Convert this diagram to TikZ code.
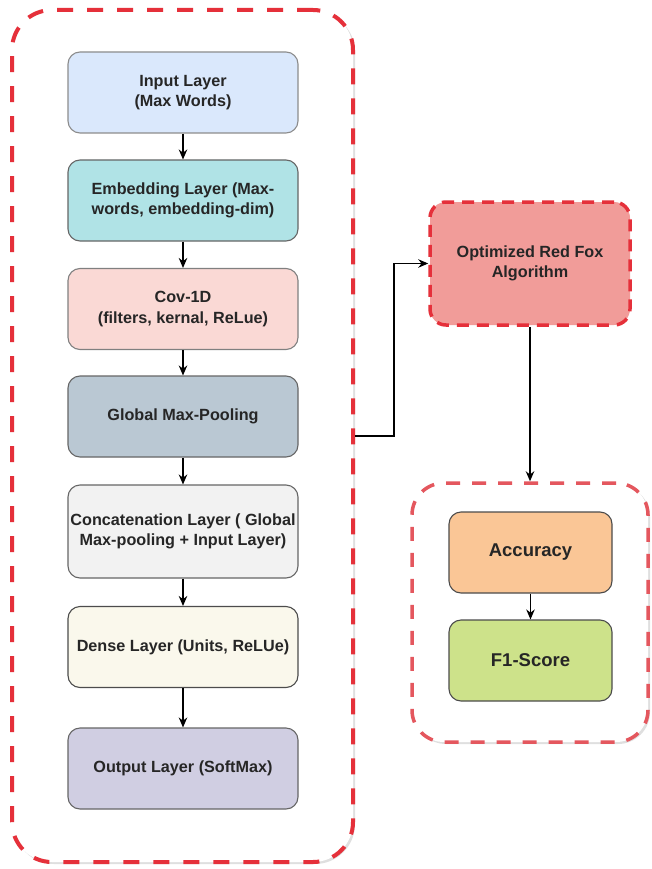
\documentclass[tikz,border=0pt]{standalone}
\usepackage{fontspec}
\setmainfont{Liberation Sans}
\usetikzlibrary{arrows.meta,shadows}
\definecolor{cred}{HTML}{E5303A}
\definecolor{cred2}{HTML}{E4575E}
\definecolor{cinp}{HTML}{DAE8FC}
\definecolor{cemb}{RGB}{176,227,230}
\definecolor{ccov}{RGB}{250,217,213}
\definecolor{cgmp}{RGB}{186,200,211}
\definecolor{ccat}{RGB}{242,242,242}
\definecolor{cden}{RGB}{250,248,236}
\definecolor{cout}{RGB}{208,206,226}
\definecolor{cfox}{RGB}{241,156,153}
\definecolor{cacc}{RGB}{250,198,150}
\definecolor{cf1}{RGB}{205,226,138}
\tikzset{
  box/.style={draw=#1, line width=1.1pt, rounded corners=12pt, minimum width=230pt, minimum height=81pt,
    align=center, font=\fontsize{16.2}{20.5}\selectfont\bfseries, text=black!85, inner sep=1pt},
  cont/.style={draw=cred, line width=4pt, dash pattern=on 16pt off 14pt, rounded corners=40pt, inner sep=0pt,
    drop shadow={opacity=0.25, shadow xshift=2pt, shadow yshift=-2pt}, fill=white},
  arr/.style={draw=black, line width=1.2pt, -{Stealth[length=10pt,width=8.5pt]}},
}
\begin{document}
\begin{tikzpicture}[x=1pt,y=-1pt]
\fill[white] (0,0) rectangle (652,869);
\useasboundingbox (0,0) rectangle (652,869);
% containers
\node[cont, minimum width=341pt, minimum height=852pt] (c1) at (182.5,436) {};
\node[cont, draw=cred2, line width=3.5pt, dash pattern=on 14pt off 12pt, rounded corners=32pt, minimum width=236pt, minimum height=259pt] (c2) at (530,612.5) {};
% left column
\node[box=black!45, fill=cinp] (inp) at (183,92.5) {Input Layer\\(Max Words)};
\node[box=black!60, fill=cemb] (emb) at (183,200.5) {Embedding Layer (Max-\\words, embedding-dim)};
\node[box=black!50, fill=ccov] (cov) at (183,309) {Cov-1D\\(filters, kernal, ReLue)};
\node[box=black!60, fill=cgmp] (gmp) at (183,416.5) {Global Max-Pooling};
\node[box=black!60, fill=ccat, minimum height=93pt] (cat) at (183,531.5) {Concatenation Layer ( Global\\Max-pooling + Input Layer)};
\node[box=black!70, fill=cden] (den) at (183,647) {Dense Layer (Units, ReLUe)};
\node[box=black!60, fill=cout] (out) at (183,768.5) {Output Layer (SoftMax)};
% right
\node[box=cred, fill=cfox, line width=3.5pt, dash pattern=on 12pt off 8pt, rounded corners=16pt,
  minimum width=200pt, minimum height=123pt] (fox) at (530,263.5) {Optimized Red Fox\\Algorithm};
\node[box=black!70, fill=cacc, minimum width=163pt, minimum height=81pt, font=\fontsize{18.5}{22}\selectfont\bfseries] (acc) at (530.5,552.5) {Accuracy};
\node[box=black!70, fill=cf1, minimum width=163pt, minimum height=81pt, font=\fontsize{18.5}{22}\selectfont\bfseries] (f1) at (530.5,660.5) {F1-Score};
% connectors
\draw[arr] (inp) -- (emb);
\draw[arr] (emb) -- (cov);
\draw[arr] (cov) -- (gmp);
\draw[arr] (gmp) -- (cat);
\draw[arr] (cat) -- (den);
\draw[arr] (den) -- (out);
\draw[arr] (c1.east) -- ++(39,0) |- (fox.west);
\draw[arr] (fox.south) -- (c2.north);
\draw[arr] (acc) -- (f1);
\end{tikzpicture}
\end{document}
